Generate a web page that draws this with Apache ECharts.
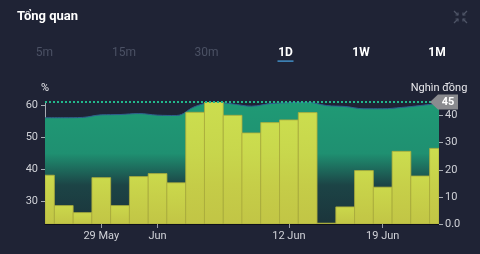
<!DOCTYPE html>
<html>
<head>
<meta charset="utf-8">
<script src="https://cdn.jsdelivr.net/npm/echarts@6/dist/echarts.min.js"></script>
<style>
html,body{margin:0;padding:0;background:#1f2335;}
#c{width:480px;height:254px;}
</style>
</head>
<body>
<div id="c"></div>
<script>
// Categories (trading days)
const categories = ['24 May','25 May','26 May','29 May','30 May','31 May','1 Jun','2 Jun','5 Jun','6 Jun','7 Jun','8 Jun','9 Jun','12 Jun','13 Jun','14 Jun','15 Jun','16 Jun','19 Jun','20 Jun','21 Jun','22 Jun'];
// Labelled ticks on x axis
const labelledCategories = ['29 May','1 Jun','12 Jun','19 Jun'];
const tickLabelText = {'29 May':'29 May','1 Jun':'Jun','12 Jun':'12 Jun','19 Jun':'19 Jun'};
// Area series (%), left axis
const percentValues = [56.0,56.0,56.1,56.9,57.0,57.3,56.8,56.7,59.5,60.8,60.3,59.6,60.4,60.7,60.8,59.8,59.5,58.8,58.8,59.2,59.8,60.5];
// Bar series (Nghìn đồng), right axis
const valueBars = [18.0,6.8,4.2,17.1,6.8,17.5,18.6,15.2,41.2,45.0,40.1,33.6,37.4,38.4,41.1,0.3,6.3,19.7,13.6,26.8,17.7,27.9];
// Axis tick labels
const leftTicks = [30,40,50,60];
const rightTicks = [0,10,20,30,40];
const tabs = ['5m','15m','30m','1D','1W','1M'];
const activeTabs = ['1D','1W','1M'];
const selectedTab = '1D';

const maxBar = Math.max.apply(null, valueBars);
const chart = echarts.init(document.getElementById('c'), null, {renderer:'canvas'});
const FONT = 'Roboto, "Noto Sans", sans-serif';

const tabX = [44.5,124,206.5,285.5,361,437];
const graphics = [];
tabs.forEach((t,i)=>{
  const active = activeTabs.indexOf(t) >= 0;
  graphics.push({type:'text', x:tabX[i], y:52.5, style:{text:t, x:0, y:0, align:'center', verticalAlign:'middle', fill: active ? '#ffffff' : '#4b5164', font: (active ? 'bold ' : '') + '12px ' + FONT}});
  if (t === selectedTab) {
    graphics.push({type:'rect', shape:{x:tabX[i]-8, y:60.5, width:16, height:1.2}, style:{fill:'#4aa8e8'}});
  }
});
// collapse icon
const ic = {stroke:'#4e5466', lineWidth:1.2, fill:null};
graphics.push(
  {type:'polyline', shape:{points:[[454,11],[458,15]]}, style:ic},
  {type:'polyline', shape:{points:[[455.5,15],[458,15],[458,12.5]]}, style:ic},
  {type:'polyline', shape:{points:[[467,11],[463,15]]}, style:ic},
  {type:'polyline', shape:{points:[[463,12.5],[463,15],[465.5,15]]}, style:ic},
  {type:'polyline', shape:{points:[[454,23],[458,19]]}, style:ic},
  {type:'polyline', shape:{points:[[455.5,19],[458,19],[458,21.5]]}, style:ic},
  {type:'polyline', shape:{points:[[467,23],[463,19]]}, style:ic},
  {type:'polyline', shape:{points:[[463,21.5],[463,19],[465.5,19]]}, style:ic}
);

const barFill = new echarts.graphic.LinearGradient(0,0,0,1,[
  {offset:0, color:'rgba(214,226,76,0.94)'},
  {offset:1, color:'rgba(204,206,70,0.94)'}
]);

function renderBar(params, api){
  const idx = api.value(0);
  const top = api.coord([idx, api.value(1)]);
  const base = api.coord([idx, 0]);
  const w = api.size([1, 0])[0];
  const cs = params.coordSys;
  const rect = echarts.graphic.clipRectByRect(
    {x: top[0] - w/2, y: top[1], width: w, height: base[1] - top[1]},
    {x: cs.x, y: cs.y, width: cs.width, height: cs.height}
  );
  if (!rect) return null;
  return {type:'rect', shape:rect, style:{fill:barFill, stroke:'#a9ab3c', lineWidth:0.8}};
}

const option = {
  backgroundColor:'#1f2335',
  animation:false,
  title:{text:'Tổng quan', left:12, top:5, textStyle:{color:'#ffffff', fontSize:13, fontWeight:'bold', fontFamily:FONT}},
  graphic: graphics,
  grid:{left:45, right:41, top:102, bottom:30},
  xAxis:{
    type:'category', data:categories, boundaryGap:false,
    axisLine:{show:true, lineStyle:{color:'#0e1019', width:1}},
    axisTick:{show:true, length:4, lineStyle:{color:'#9a9ea8'}, interval:(i,v)=>labelledCategories.indexOf(v)>=0},
    axisLabel:{color:'#d0d2d8', fontSize:11, fontFamily:FONT, margin:7, interval:(i,v)=>labelledCategories.indexOf(v)>=0, formatter:v=>tickLabelText[v]||''},
    splitLine:{show:false}
  },
  yAxis:[
    {type:'value', position:'left', min:22.9, max:60.9, name:'%', nameLocation:'end', nameGap:8,
     nameTextStyle:{color:'#e8e8ec', fontSize:11, fontFamily:FONT, align:'center'},
     axisLine:{show:true, lineStyle:{color:'#a8acb4'}},
     axisTick:{show:true, length:4, lineStyle:{color:'#a8acb4'}, customValues:leftTicks},
     axisLabel:{color:'#d0d2d8', fontSize:11, fontFamily:FONT, margin:7, customValues:leftTicks},
     splitLine:{show:false}},
    {type:'value', position:'right', min:0, max:45, name:'Nghìn đồng', nameLocation:'end', nameGap:8,
     nameTextStyle:{color:'#e8e8ec', fontSize:11, fontFamily:FONT, align:'center'},
     axisLine:{show:false},
     axisTick:{show:true, length:4, lineStyle:{color:'#a8acb4'}, customValues:rightTicks},
     axisLabel:{color:'#d0d2d8', fontSize:11, fontFamily:FONT, margin:6, customValues:rightTicks, formatter:v=>v===0?'0.0':String(v)},
     splitLine:{show:false}}
  ],
  series:[
    {type:'line', yAxisIndex:0, data:percentValues, smooth:0.4, symbol:'none',
     lineStyle:{color:'#2f5f8e', width:1},
     areaStyle:{origin:'start', opacity:1, color:new echarts.graphic.LinearGradient(0,0,0,1,[
       {offset:0, color:'#1f9a75'},
       {offset:0.42, color:'#1f9071'},
       {offset:0.68, color:'#1c4446'},
       {offset:1, color:'#1b343b'}
     ])},
     z:1},
    {type:'custom', yAxisIndex:1, renderItem:renderBar, clip:true,
     encode:{x:0, y:1},
     data:valueBars.map((v,i)=>[i,v]),
     markLine:{silent:true, symbol:['none','none'],
       lineStyle:{color:'#22b88c', type:[2,2], width:1.8, opacity:1},
       label:{show:false},
       data:[{yAxis:maxBar}]},
     markPoint:{silent:true,
       symbol:'path://M0,7 L8,0 L28,0 L28,14 L8,14 Z', symbolSize:[28,15], symbolKeepAspect:false,
       symbolOffset:[5,0],
       itemStyle:{color:'#8a8b8f'},
       label:{show:true, color:'#ffffff', fontSize:11, fontWeight:'bold', fontFamily:FONT, offset:[4,0], formatter:p=>String(p.value)},
       data:[{coord:[categories.length-1, maxBar], value:maxBar}]},
     z:2}
  ]
};
chart.setOption(option);
</script>
</body>
</html>
